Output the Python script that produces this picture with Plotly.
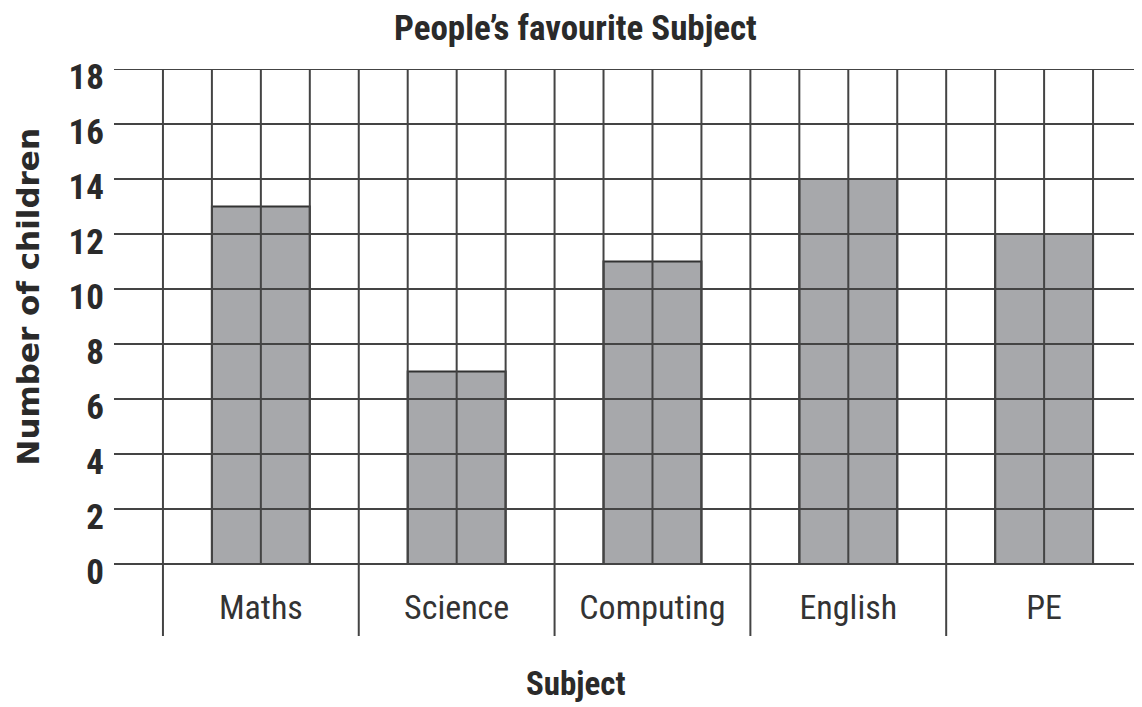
import plotly.graph_objects as go

# ---- data ----
subjects = ["Maths", "Science", "Computing", "English", "PE"]
children = [13, 7, 11, 14, 12]
y_ticks = [0, 2, 4, 6, 8, 10, 12, 14, 16, 18]

title_text = "People\u2019s favourite Subject"
x_title = "Subject"
y_title = "Number of children"

FONT = "Roboto Condensed, Liberation Sans Narrow, DejaVu Sans Condensed, Roboto, sans-serif"
YFONT = "DejaVu Sans, Open Sans, sans-serif"
INK = "#2a2a2a"
GRID = "#444444"
BAR = "#a7a8ab"

CELLS = 4            # grid cells per category
X_MIN, X_MAX = -1, len(subjects) * CELLS
Y_MIN, Y_MAX = -2.62, 18
LABEL_Y = -1.69

centers = [CELLS * i + CELLS / 2 for i in range(len(subjects))]

fig = go.Figure()

fig.add_trace(go.Bar(
    x=centers, y=children, width=2,
    marker=dict(color=BAR, line=dict(color="#333333", width=2)),
    hoverinfo="x+y", showlegend=False,
))

# grid drawn above bars
gx, gy = [], []
for v in y_ticks:
    gx += [X_MIN, X_MAX, None]
    gy += [v, v, None]
for c in range(0, X_MAX):
    gx += [c, c, None]
    gy += [0, Y_MAX, None]
for c in range(0, X_MAX + 1, CELLS):
    gx += [c, c, None]
    gy += [Y_MIN, 0, None]
fig.add_trace(go.Scatter(x=gx, y=gy, mode="lines",
                         line=dict(color=GRID, width=2),
                         hoverinfo="skip", showlegend=False))

# category labels
fig.add_trace(go.Scatter(
    x=centers, y=[LABEL_Y] * len(subjects), text=subjects, mode="text",
    textfont=dict(family=FONT, size=34, color="#333333"),
    hoverinfo="skip", showlegend=False,
))

fig.update_layout(
    width=1134, height=699,
    margin=dict(l=106, r=0, t=61, b=71),
    paper_bgcolor="white", plot_bgcolor="white",
    showlegend=False,
    xaxis=dict(range=[X_MIN, X_MAX], showgrid=False, zeroline=False,
               showticklabels=False, showline=False, fixedrange=True),
    yaxis=dict(range=[Y_MIN, Y_MAX], showgrid=False, zeroline=False,
               showline=False, tickmode="array", tickvals=y_ticks,
               ticktext=[str(v) for v in y_ticks],
               tickfont=dict(family=FONT, size=35, color=INK, weight="bold"),
               ticklabelshift=8, ticklabelstandoff=9, fixedrange=True),
    annotations=[
        dict(text=title_text, xref="paper", yref="paper", x=0.4494, y=1,
             yshift=40.5, xanchor="center", yanchor="middle", showarrow=False,
             font=dict(family=FONT, size=35, color=INK, weight="bold")),
        dict(text=x_title, xref="paper", yref="paper", x=0.4494, y=0,
             yshift=-47, xanchor="center", yanchor="middle", showarrow=False,
             font=dict(family=FONT, size=33, color=INK, weight="bold")),
        dict(text=y_title, xref="paper", yref="paper", x=0, y=0.5,
             xshift=-87, yshift=55, xanchor="center", yanchor="middle",
             textangle=-90, showarrow=False,
             font=dict(family=YFONT, size=31, color=INK, weight="bold")),
    ],
)

fig.write_html("out.html")
